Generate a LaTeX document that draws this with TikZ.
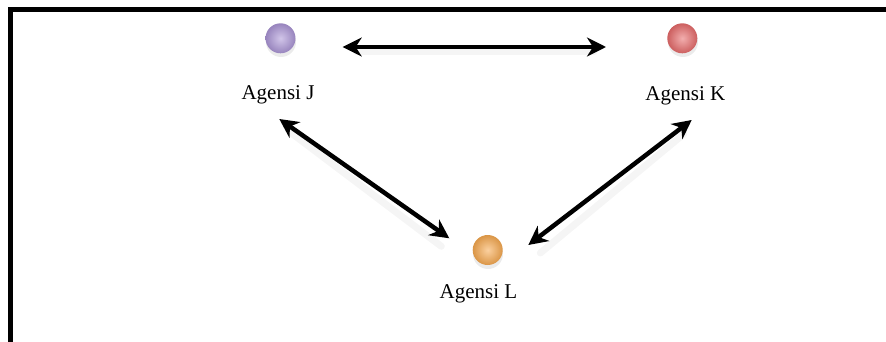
\documentclass[tikz,border=0pt]{standalone}
\usepackage{fontspec}
\setmainfont{Liberation Serif}
\usetikzlibrary{arrows.meta,shadings,calc}
\definecolor{jcol}{RGB}{172,150,215}
\definecolor{kcol}{RGB}{232,108,108}
\definecolor{lcol}{RGB}{248,170,80}
\tikzset{
  agent/.style={circle, minimum size=30pt, inner sep=0pt, inner color=#1!55!white, outer color=#1!88!black},
  agentshadow/.style={circle, minimum size=30pt, inner sep=0pt, fill=black!8},
  lbl/.style={font=\fontsize{21pt}{24pt}\selectfont, anchor=base, inner sep=0pt},
  link/.style={line width=4.5pt, {Stealth[length=19pt,width=19pt,inset=6pt]}-{Stealth[length=19pt,width=19pt,inset=6pt]}},
  linkshadow/.style={line width=7pt, black!4, line cap=round},
  frame/.style={line width=5pt, line join=miter}
}
\begin{document}
\begin{tikzpicture}[x=1pt,y=-1pt]
\useasboundingbox (0,0) rectangle (886,342);
\clip (0,0) rectangle (886,342);
\draw[frame] (10.5,360) -- (10.5,10) -- (900,10);
% shadows
\node[agentshadow] at (281,42) {};
\node[agentshadow] at (683,42) {};
\node[agentshadow] at (488,254) {};
% agents
\node[agent=jcol] (J) at (280.5,38.3) {};
\node[agent=kcol] (K) at (682.3,38.3) {};
\node[agent=lcol] (L) at (487.7,250) {};
% labels
\node[lbl] (JL) at (278,100) {Agensi J};
\node[lbl] (KL) at (685.3,100.5) {Agensi K};
\node[lbl] (LL) at (478.5,298) {Agensi L};
% arrow end points
\coordinate (hJ) at (342.7,47);
\coordinate (hK) at (606,47);
\coordinate (dJ) at (279.3,119);
\coordinate (dLa) at (449.3,238.3);
\coordinate (dK) at (691.7,120);
\coordinate (dLb) at (528.3,245);
% arrow shadows
\draw[linkshadow] ($(hJ)+(14,5)$) -- ($(hK)+(-12,5)$);
\draw[linkshadow] ($(dJ)+(12,14)$) -- ($(dLa)+(-8,8)$);
\draw[linkshadow] ($(dK)+(-8,14)$) -- ($(dLb)+(12,8)$);
% arrows
\draw[link] (hJ) -- (hK);
\draw[link] (dJ) -- (dLa);
\draw[link] (dK) -- (dLb);
\end{tikzpicture}
\end{document}
